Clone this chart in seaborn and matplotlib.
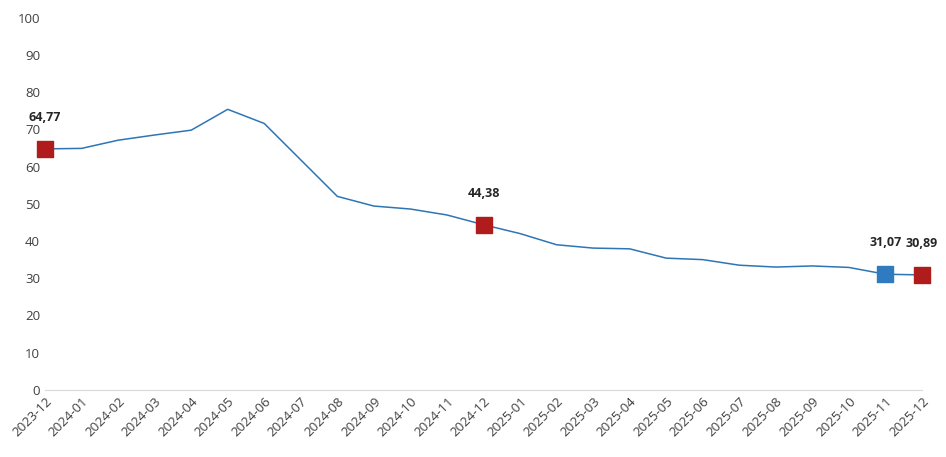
import matplotlib
matplotlib.use("Agg")
import matplotlib.pyplot as plt
import seaborn as sns
import pandas as pd

months = ["2023-12","2024-01","2024-02","2024-03","2024-04","2024-05","2024-06","2024-07",
          "2024-08","2024-09","2024-10","2024-11","2024-12","2025-01","2025-02","2025-03",
          "2025-04","2025-05","2025-06","2025-07","2025-08","2025-09","2025-10","2025-11","2025-12"]
values = [64.77,64.9,67.1,68.5,69.8,75.4,71.6,61.8,52.0,49.4,48.6,47.0,44.38,42.0,39.0,38.1,
          37.9,35.4,35.0,33.5,33.0,33.3,32.9,31.07,30.89]
red_idx = [0, 12, 24]
blue_idx = [23]
label_idx = [0, 12, 23, 24]

sns.set_style("white")
plt.rcParams['font.family'] = ['Open Sans', 'DejaVu Sans']
df = pd.DataFrame({"x": range(len(months)), "v": values})

fig = plt.figure(figsize=(9.46, 4.57), dpi=100)
ax = fig.add_axes([0.0476, 0.147, 0.927, 0.814])
sns.lineplot(data=df, x="x", y="v", ax=ax, color="#2E75B6", linewidth=1.1)
ax.scatter([df.x[i] for i in red_idx], [values[i] for i in red_idx], marker="s", s=120,
           color="#B01C1C", zorder=3, clip_on=False)
ax.scatter([df.x[i] for i in blue_idx], [values[i] for i in blue_idx], marker="s", s=120,
           color="#2E7BBF", zorder=3, clip_on=False)
for i in label_idx:
    ax.annotate(f"{values[i]:.2f}".replace(".", ","), (i, values[i]), xytext=(0, 20),
                textcoords="offset points", ha="center", fontsize=9, fontweight="bold")
ax.set_xlim(0, len(months) - 1)
ax.set_ylim(0, 100)
ax.set_yticks(range(0, 101, 10))
ax.set_xticks(range(len(months)))
ax.set_xticklabels(months, rotation=45, ha="right", rotation_mode="anchor")
ax.tick_params(labelsize=9.5, colors="#404040", length=0)
ax.set_xlabel(""); ax.set_ylabel("")
for s in ["top", "right", "left"]:
    ax.spines[s].set_visible(False)
ax.spines["bottom"].set_color("#D9D9D9")
fig.savefig("out.png", dpi=100)
